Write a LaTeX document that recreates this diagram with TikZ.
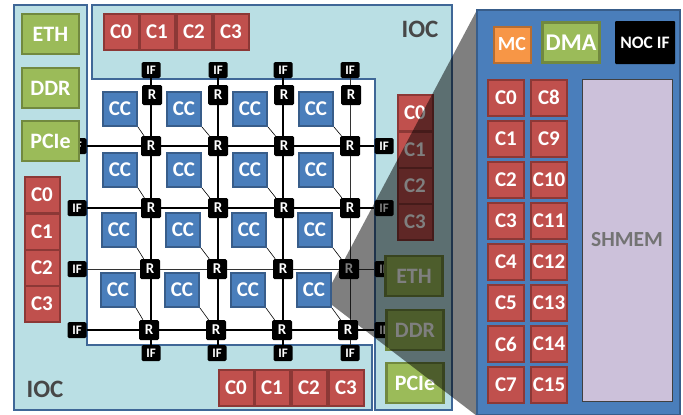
\documentclass[tikz,border=0pt]{standalone}
\usepackage{fontspec}
\setmainfont{Carlito}
\definecolor{iocfill}{HTML}{BADFE4}
\definecolor{iocline}{HTML}{3F6797}
\definecolor{redf}{HTML}{C0504D}
\definecolor{redl}{HTML}{8C3836}
\definecolor{greenf}{HTML}{9BBB59}
\definecolor{greenl}{HTML}{71893F}
\definecolor{bluef}{HTML}{4A7EBB}
\definecolor{bluel}{HTML}{385D8A}
\definecolor{orangef}{HTML}{F79646}
\definecolor{orangel}{HTML}{B66D31}
\definecolor{shmemf}{HTML}{CCC1DA}
\tikzset{
  x=1pt,y=-1pt,
  boxtext/.style={text=white,font=\bfseries\fontsize{#1}{#1}\selectfont,inner sep=0pt,align=center},
  ioczone/.style={fill=iocfill,draw=iocline,line width=1.8pt},
  corebox/.style={boxtext=21,fill=redf,draw=redl,line width=2pt,minimum width=35pt,minimum height=36pt},
  wcorebox/.style={corebox,minimum width=36pt,minimum height=36pt},
  gbox/.style={boxtext=22,fill=greenf,draw=greenl,line width=2.2pt,minimum width=57pt,minimum height=40pt},
  ccbox/.style={boxtext=21,fill=bluef,draw=bluel,line width=1.9pt,minimum width=34pt,minimum height=34pt},
  routerbox/.style={boxtext=15,fill=black,rounded corners=1.5pt,minimum width=20pt,minimum height=20pt},
  ifbox/.style={boxtext=13,fill=black,rounded corners=1.5pt,minimum width=19pt,minimum height=16pt},
  link/.style={line width=1.6pt,black},
  thinlink/.style={line width=0.9pt,black!80},
  ccwire/.style={line width=0.6pt,black},
  zonelabel/.style={text=black!72,font=\bfseries\fontsize{25}{25}\selectfont,inner sep=0pt},
}
\begin{document}
\begin{tikzpicture}
\useasboundingbox (0,0) rectangle (683,415);
% mesh area and IOC zones
\fill[white] (87,79) rectangle (375,345);
\draw[ioczone] (14,5) -- (87,5) -- (87,345) -- (372,345) -- (372,410) -- (14,410) -- cycle;
\draw[ioczone] (92,5) -- (452,5) -- (452,410) -- (375,410) -- (375,79) -- (92,79) -- cycle;
\node[zonelabel] (iocA) at (420,29) {IOC};
\node[zonelabel] (iocB) at (45,389) {IOC};
% routers
\foreach \n/\x/\y in {u1/152/95,u2/218/95,u3/284/95,u4/351/95,
  a1/151/146,a2/218/146,a3/284/146,a4/350/146,
  b1/151/208,b2/218/208,b3/284/208,b4/350/208,
  c1/150/269,c2/217/269,c3/283/269,c4/349/269,
  d1/149/330,d2/216/330,d3/282/330,d4/348/330}
  \node[routerbox] (\n) at (\x,\y) {R};
% interfaces
\foreach \n/\x/\y in {t1/151/70,t2/218/70,t3/283/70,t4/350/70,
  s1/151/353,s2/217/353,s3/283/353,s4/350/353,
  la/77/146,lb/77/208,lc/77/269,ld/77/330,
  ra/384/146,rb/384/208,rc/384/269,rd/384/330}
  \node[ifbox] (\n) at (\x,\y) {IF};
% mesh links: rows
\foreach \p/\q in {la/a1,a1/a2,a2/a3,a3/a4,a4/ra,
  lb/b1,b1/b2,b2/b3,b3/b4,b4/rb,
  ld/d1,d1/d2,d2/d3,d3/d4,d4/rd}
  \draw[link] (\p) -- (\q);
\foreach \p/\q in {lc/c1,c1/c2,c2/c3,c3/c4,c4/rc}
  \draw[thinlink] (\p) -- (\q);
% mesh links: columns, each straight under its top interface
\foreach \t/\p/\q in {t1/t1/u1,t1/u1/a1,t1/a1/b1,t1/b1/c1,t1/c1/d1,t1/d1/s1,
  t2/t2/u2,t2/u2/a2,t2/a2/b2,t2/b2/c2,t2/c2/d2,t2/d2/s2,
  t3/t3/u3,t3/u3/a3,t3/a3/b3,t3/b3/c3,t3/c3/d3,t3/d3/s3}
  \draw[link] (\t |- \p.south) -- (\t |- \q.north);
\foreach \t/\p/\q in {t4/t4/u4,t4/u4/a4,t4/a4/b4,t4/b4/c4,t4/c4/d4,t4/d4/s4}
  \draw[thinlink] (\t |- \p.south) -- (\t |- \q.north);
% compute cores
\foreach \n/\x/\y/\r in {
  k1/120/109/a1,k2/184/109/a2,k3/250/109/a3,k4/316/109/a4,
  k5/120/170/b1,k6/184/170/b2,k7/250/170/b3,k8/316/170/b4,
  k9/119/230/c1,k10/183/230/c2,k11/249/230/c3,k12/315/230/c4,
  k13/118/290/d1,k14/182/290/d2,k15/248/290/d3,k16/314/290/d4}{
  \node[ccbox] (\n) at (\x,\y) {CC};
  \draw[ccwire] (\n.south east) -- (\r);
}
% IOC peripherals
\node[gbox] (eth1) at (50.5,34) {ETH};
\node[gbox] (ddr1) at (50.5,88) {DDR};
\node[gbox] (pcie1) at (50.5,141) {PCIe};
\node[gbox] (eth2) at (414,276) {ETH};
\node[gbox] (ddr2) at (415,330) {DDR};
\node[gbox] (pcie2) at (415,383) {PCIe};
% IOC cores
\foreach \n/\x/\t in {ta/121/C0,tb/157/C1,tc/194/C2,td/231/C3}
  \node[corebox] (\n) at (\x,32) {\t};
\foreach \n/\x/\t in {ba/236/C0,bb/272/C1,bc/309/C2,bd/346/C3}
  \node[corebox] (\n) at (\x,388) {\t};
\foreach \n/\y/\t in {wa/195/C0,wb/232/C1,wc/268/C2,wd/304/C3}
  \node[corebox] (\n) at (42,\y) {\t};
\foreach \n/\y/\t in {ea/113/C0,eb/150/C1,ec/186/C2,ed/222/C3}
  \node[corebox] (\n) at (415,\y) {\t};
% zoom shadow
\fill[black,opacity=.5] (477,10) -- (332,283) -- (332,305) -- (477,416) -- cycle;
% expanded core panel
\node[fill=bluef,draw=bluel,line width=1.6pt,minimum width=203pt,minimum height=405pt,inner sep=0pt] (panel) at (578.5,212.5) {};
\node[boxtext=20,fill=orangef,draw=orangel,line width=2pt,minimum width=37pt,minimum height=36pt] (mc) at (512,44.5) {MC};
\node[gbox,boxtext=24,minimum width=57pt,minimum height=40pt] (dma) at (571,42.5) {DMA};
\node[boxtext=17.5,fill=black,rounded corners=1pt,minimum width=60pt,minimum height=43pt] (nocif) at (645,42.5) {NOC IF};
\foreach \n/\y/\tl/\tr in {0/97.5/C0/C8,1/138.5/C1/C9,2/179.5/C2/C10,3/220.5/C3/C11,4/261.5/C4/C12,5/303/C5/C13,6/344/C6/C14,7/385/C7/C15}{
  \node[wcorebox] (pl\n) at (506,\y) {\tl};
  \node[wcorebox] (pr\n) at (549,\y) {\tr};
}
\node[fill=shmemf,draw=black!75,line width=0.7pt,minimum width=90pt,minimum height=322pt,inner sep=0pt,text=black!55,font=\bfseries\fontsize{21.5}{21.5}\selectfont] (shmem) at (627,240) {SHMEM};
\end{tikzpicture}
\end{document}
